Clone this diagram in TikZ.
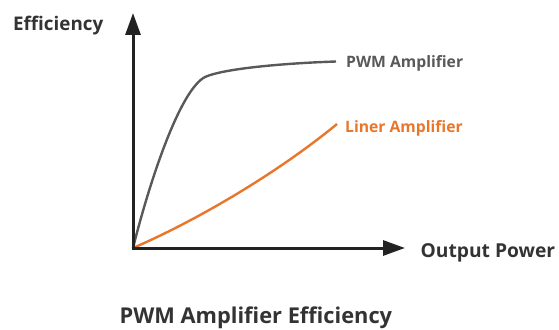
\documentclass[tikz,border=0pt]{standalone}
\usepackage{fontspec}
\setmainfont{Open Sans}
\usetikzlibrary{arrows.meta}
\definecolor{axisc}{HTML}{222222}
\definecolor{pwmc}{HTML}{58595B}
\definecolor{linc}{HTML}{E8762B}
\definecolor{txtc}{HTML}{333333}
\tikzset{
  axis/.style={draw=axisc, line width=3pt, -{Triangle[length=22pt,width=15pt]}},
  curve/.style={line width=2.4pt},
  lbl/.style={font=\bfseries\fontsize{15.7}{18}\selectfont, inner sep=0pt, anchor=base west},
}
\begin{document}
\begin{tikzpicture}[x=1pt,y=-1pt]
\useasboundingbox (0,0) rectangle (559,329);
\coordinate (O) at (133,248);
\coordinate (ytip) at (133,13);
\coordinate (xtip) at (405,248);
\coordinate (bend) at (205,77);
\coordinate (pwmend) at (336,61.5);
\coordinate (linend) at (337,124);
\draw[curve, pwmc] (O) .. controls (150,180) and (180,90) .. (bend) .. controls (225,68) and (290,63) .. (pwmend);
\draw[curve, linc] (O) .. controls (200,219) and (280,171) .. (linend);
\draw[axis] (O) -- (ytip);
\draw[axis] ([xshift=-1.5pt]O) -- (xtip);
\node[lbl, text=txtc, font=\bfseries\fontsize{18.8}{22}\selectfont] (eff) at (13,30.5) {Efficiency};
\node[lbl, text=pwmc] (pwm) at (346,67) {PWM Amplifier};
\node[lbl, text=linc] (lin) at (345,132) {Liner Amplifier};
\node[lbl, text=txtc, font=\bfseries\fontsize{19.2}{22}\selectfont] (out) at (420.5,257) {Output Power};
\node[lbl, text=txtc, font=\bfseries\fontsize{21.8}{25}\selectfont] (title) at (119.5,323) {PWM Amplifier Efficiency};
\end{tikzpicture}
\end{document}
